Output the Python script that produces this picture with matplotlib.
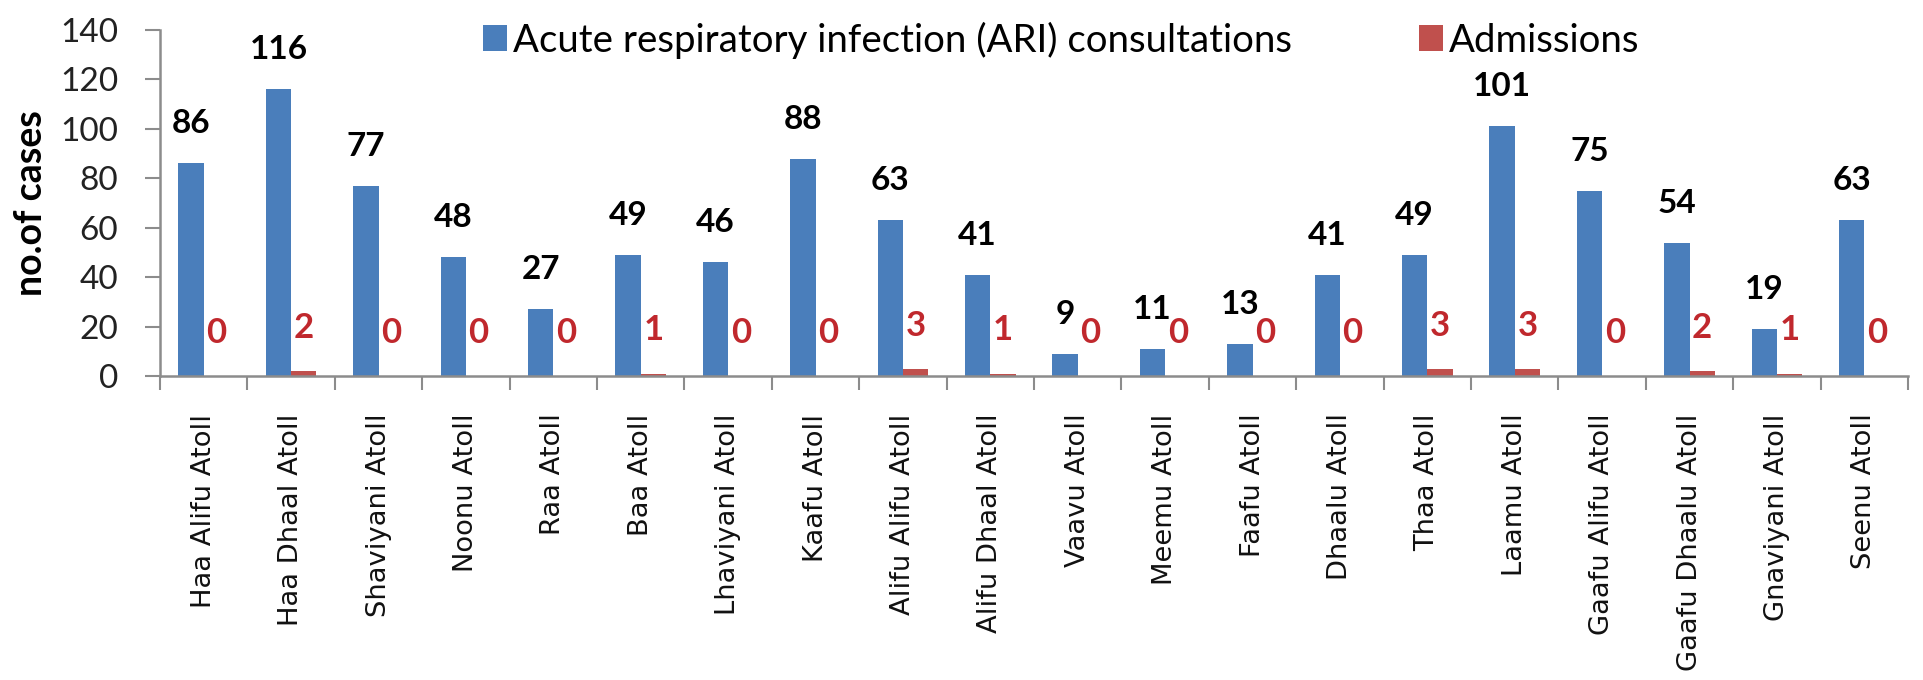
import numpy as np
import matplotlib.pyplot as plt
from matplotlib.ticker import MultipleLocator

# data
atolls = ['Haa Alifu Atoll', 'Haa Dhaal Atoll', 'Shaviyani Atoll', 'Noonu Atoll',
          'Raa Atoll', 'Baa Atoll', 'Lhaviyani Atoll', 'Kaafu Atoll',
          'Alifu Alifu Atoll', 'Alifu Dhaal Atoll', 'Vaavu Atoll', 'Meemu Atoll',
          'Faafu Atoll', 'Dhaalu Atoll', 'Thaa Atoll', 'Laamu Atoll',
          'Gaafu Alifu Atoll', 'Gaafu Dhaalu Atoll', 'Gnaviyani Atoll', 'Seenu Atoll']
ari = [86, 116, 77, 48, 27, 49, 46, 88, 63, 41, 9, 11, 13, 41, 49, 101, 75, 54, 19, 63]
admissions = [0, 2, 0, 0, 0, 1, 0, 0, 3, 1, 0, 0, 0, 0, 3, 3, 0, 2, 1, 0]

plt.rcParams['font.family'] = ['Lato', 'DejaVu Sans']

W, H = 1923, 680
fig = plt.figure(figsize=(W / 100, H / 100), dpi=100)
# axes box in pixels: left 160, right 1908, top 30, bottom 376
ax = fig.add_axes([160 / W, 1 - 376 / H, 1748 / W, 346 / H])

x = np.arange(len(atolls))
w = 0.29
b1 = ax.bar(x - w / 2, ari, w, color='#4A7EBB',
            label='Acute respiratory infection (ARI) consultations')
b2 = ax.bar(x + w / 2, admissions, w, color='#C0504D', label='Admissions')

# value labels
for xi, v in zip(x, ari):
    ax.annotate(str(v), (xi - w / 2, v), xytext=(0, 18), textcoords='offset points',
                ha='center', va='bottom', fontsize=24, fontweight='bold', color='black')
for xi, v in zip(x, admissions):
    ax.annotate(str(v), (xi + w / 2, v), xytext=(0, 31), textcoords='offset points',
                ha='center', va='center', fontsize=25, fontweight='bold', color='#C0282D')

ax.set_xlim(-0.5, len(atolls) - 0.5)
ax.set_ylim(0, 140)
ax.yaxis.set_major_locator(MultipleLocator(20))
ax.tick_params(axis='y', labelsize=24, length=11, width=1.5, pad=19,
               color='#8C8C8C', labelcolor='#222222')

ax.set_xticks(x)
ax.set_xticklabels(atolls, rotation=90, family='DejaVu Sans', fontsize=19.7)
ax.set_xticks(np.arange(-0.5, len(atolls), 1), minor=True)
ax.tick_params(axis='x', which='major', length=0, pad=27, labelcolor='#111111')
ax.tick_params(axis='x', which='minor', length=10, width=1.5, color='#8C8C8C')

for s in ['top', 'right']:
    ax.spines[s].set_visible(False)
for s in ['left', 'bottom']:
    ax.spines[s].set_color('#8C8C8C')
    ax.spines[s].set_linewidth(1.8)

ax.set_ylabel('no.of cases', fontsize=27, fontweight='bold')
ax.yaxis.set_label_coords((48 - 160) / 1748, 0.5)

fig.legend(handles=[b1, b2], loc='center', bbox_to_anchor=(1061 / W, 1 - 40 / H),
           ncol=2, frameon=False, fontsize=27.6, handlelength=0.64, handleheight=0.64,
           handletextpad=0.15, columnspacing=3.3, borderpad=0, borderaxespad=0)

fig.savefig('out.png', dpi=100)
